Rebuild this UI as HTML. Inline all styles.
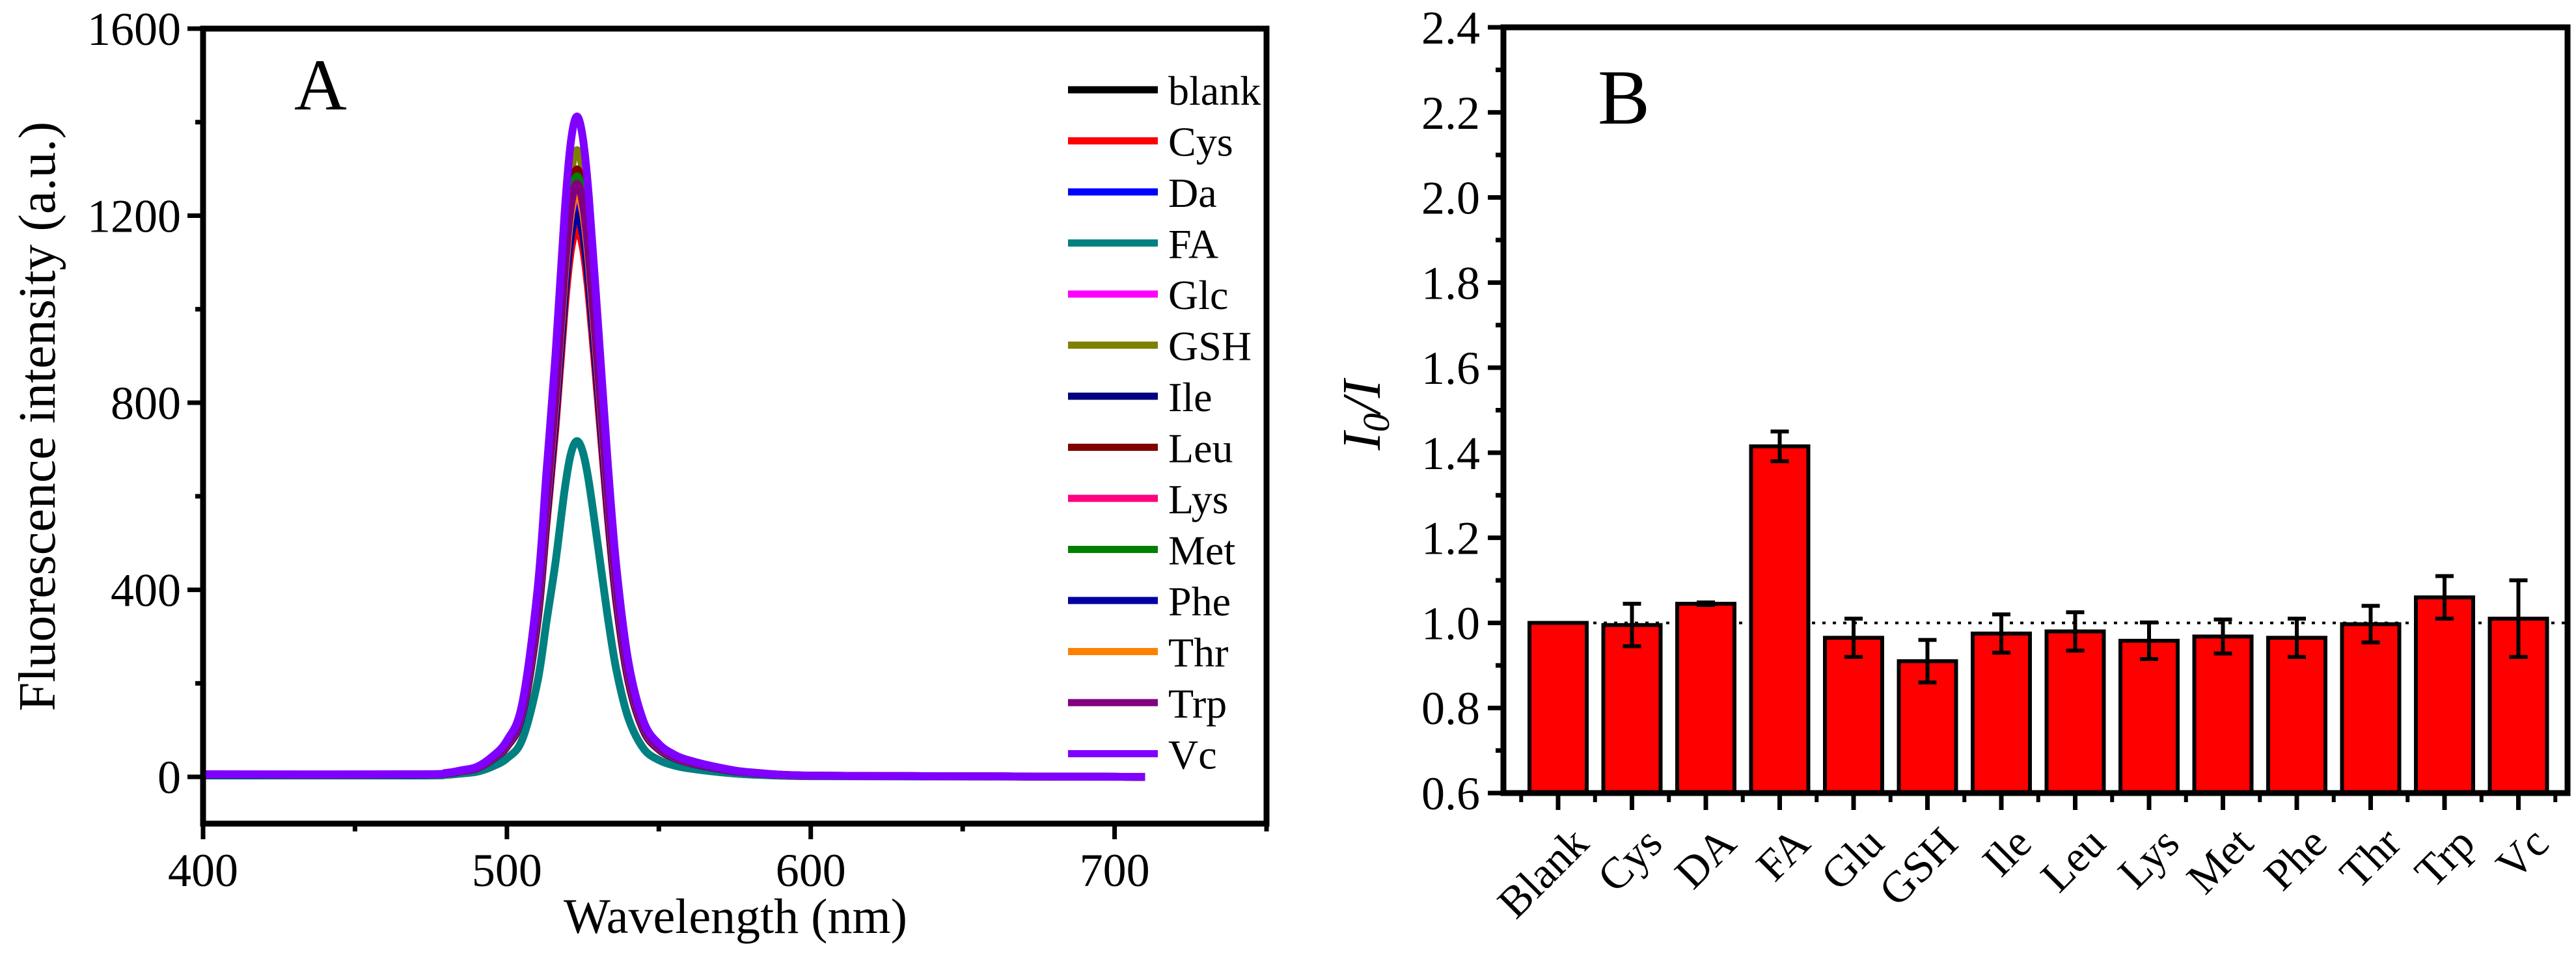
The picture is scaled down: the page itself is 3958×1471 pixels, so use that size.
<!DOCTYPE html>
<html><head><meta charset="utf-8"><style>
html,body{margin:0;padding:0;background:#fff;}
svg{display:block;font-family:"Liberation Serif",serif;}
</style></head><body>
<svg id="fig" width="3958" height="1471" viewBox="0 0 3958 1471" xmlns="http://www.w3.org/2000/svg">
<g id="pa"></g>
<g id="pb"></g>
</svg>
<script>
// ---------- Panel A data ----------
const seriesNames = ["blank","Cys","Da","FA","Glc","GSH","Ile","Leu","Lys","Met","Phe","Thr","Trp","Vc"];
const seriesColors = ["#000000","#ff0000","#0000ff","#008080","#ff00ff","#808000","#000080","#800000","#ff0080","#008000","#0000a0","#ff8000","#800080","#8000ff"];
const peakValues = [1210,1170,1230,718,1255,1340,1201,1299,1247,1284,1201,1250,1268,1412];
const wavelengths = [400,470,480,485,490,495,500,505,510,513,516,519,521,523,525,527,530,533,536,540,545,550,555,560,570,580,600,650,710];
const profile = [0.004,0.004,0.006,0.01,0.015,0.03,0.055,0.11,0.28,0.46,0.64,0.855,0.96,1,0.967,0.877,0.686,0.488,0.32,0.174,0.084,0.05,0.034,0.025,0.014,0.007,0.002,0.001,0];
const xTicksA = [400,500,600,700];
const yTicksA = [0,400,800,1200,1600];

// ---------- Panel B data ----------
const categories = ["Blank","Cys","DA","FA","Glu","GSH","Ile","Leu","Lys","Met","Phe","Thr","Trp","Vc"];
const ratioValues = [1.0,0.995,1.045,1.415,0.965,0.91,0.975,0.98,0.958,0.968,0.965,0.997,1.06,1.01];
const ratioErrors = [0,0.05,0.003,0.035,0.045,0.05,0.045,0.045,0.043,0.04,0.045,0.043,0.05,0.09];
const yTicksB = ["0.6","0.8","1.0","1.2","1.4","1.6","1.8","2.0","2.2","2.4"];

const NS="http://www.w3.org/2000/svg";
function mk(parent,tag,attrs,text){const e=document.createElementNS(NS,tag);for(const k in attrs)e.setAttribute(k,attrs[k]);if(text!==undefined)e.textContent=text;parent.appendChild(e);return e;}

// ===== Panel A =====
const pa=document.getElementById('pa');
const A={L:312,R:1946,T:44,B:1266,x0:400,x1:750,y0:-100,y1:1600};
const xA=v=>A.L+(v-A.x0)/(A.x1-A.x0)*(A.R-A.L);
const yA=v=>A.B-(v-A.y0)/(A.y1-A.y0)*(A.B-A.T);

function smoothPath(pts){
  let d="M"+pts[0][0].toFixed(1)+","+pts[0][1].toFixed(1);
  for(let i=0;i<pts.length-1;i++){
    const p0=pts[Math.max(0,i-1)],p1=pts[i],p2=pts[i+1],p3=pts[Math.min(pts.length-1,i+2)];
    const c1x=p1[0]+(p2[0]-p0[0])/6,c1y=p1[1]+(p2[1]-p0[1])/6;
    const c2x=p2[0]-(p3[0]-p1[0])/6,c2y=p2[1]-(p3[1]-p1[1])/6;
    d+=" C"+c1x.toFixed(1)+","+c1y.toFixed(1)+" "+c2x.toFixed(1)+","+c2y.toFixed(1)+" "+p2[0].toFixed(1)+","+p2[1].toFixed(1);
  }
  return d;
}
for(let s=0;s<seriesNames.length;s++){
  const pts=wavelengths.map((w,i)=>[xA(w),yA(profile[i]*peakValues[s])]);
  const p=mk(pa,'path',{d:smoothPath(pts),fill:'none',stroke:seriesColors[s],'stroke-width':12,'stroke-linejoin':'round'});
  
  
}
const fa=mk(pa,'rect',{x:A.L,y:A.T,width:A.R-A.L,height:A.B-A.T,fill:'none',stroke:'#000','stroke-width':9});


for(let v=400;v<=750;v+=50){
  const major=v%100===0;
  const t=mk(pa,'line',{x1:xA(v),x2:xA(v),y1:A.B,y2:A.B+(major?24:12),stroke:'#000','stroke-width':7});
  
  
}
xTicksA.forEach(v=>{
  const t=mk(pa,'text',{x:xA(v),y:1362,'font-size':72,'text-anchor':'middle'},String(v));
  
  
});
for(let v=0;v<=1600;v+=200){
  const major=v%400===0;
  const t=mk(pa,'line',{x1:A.L,x2:A.L-(major?24:12),y1:yA(v),y2:yA(v),stroke:'#000','stroke-width':7});
  
  
}
yTicksA.forEach(v=>{
  const t=mk(pa,'text',{x:278,y:yA(v)+25,'font-size':72,'text-anchor':'end'},String(v));
  
  
});
let t=mk(pa,'text',{x:0,y:0,'font-size':80,'text-anchor':'middle',transform:'translate(84,640) rotate(-90)'},'Fluorescence intensity (a.u.)');


t=mk(pa,'text',{x:1130,y:1434,'font-size':76,'text-anchor':'middle'},'Wavelength (nm)');


t=mk(pa,'text',{x:452,y:168,'font-size':112},'A');


seriesNames.forEach((n,i)=>{
  const y=138+i*78.5;
  const g=mk(pa,'g',{});
  
  
  mk(g,'line',{x1:1641,x2:1779,y1:y,y2:y,stroke:seriesColors[i],'stroke-width':11});
  mk(g,'text',{x:1795,y:y+23,'font-size':64},n);
});

// ===== Panel B =====
const pb=document.getElementById('pb');
const B={L:2310,R:3945,T:42,B:1219,y0:0.6,y1:2.4};
const yB=v=>B.B-(v-B.y0)/(B.y1-B.y0)*(B.B-B.T);
const step=113.5, firstC=2394;
const xB=i=>firstC+i*step;
const barW=88;
t=mk(pb,'line',{x1:2352,x2:B.R,y1:yB(1.0),y2:yB(1.0),stroke:'#000','stroke-width':4,'stroke-dasharray':'5 11'});


categories.forEach((c,i)=>{
  const v=ratioValues[i],e=ratioErrors[i],cx=xB(i);
  const r=mk(pb,'rect',{x:cx-barW/2,y:yB(v),width:barW,height:yB(0.6)-yB(v),fill:'#ff0000',stroke:'#000','stroke-width':6});
  
  
  if(e>0){
    const g=mk(pb,'g',{stroke:'#000','stroke-width':6});
    
    
    mk(g,'line',{x1:cx,x2:cx,y1:yB(v+e),y2:yB(v-e)});
    mk(g,'line',{x1:cx-14,x2:cx+14,y1:yB(v+e),y2:yB(v+e)});
    mk(g,'line',{x1:cx-14,x2:cx+14,y1:yB(v-e),y2:yB(v-e)});
  }
  const tk=mk(pb,'line',{x1:cx,x2:cx,y1:B.B,y2:B.B+26,stroke:'#000','stroke-width':7});
  
  
  const mt=mk(pb,'line',{x1:cx-step/2,x2:cx-step/2,y1:B.B,y2:B.B+14,stroke:'#000','stroke-width':6});
  
  
  const lb=mk(pb,'text',{x:0,y:0,'font-size':68,'text-anchor':'end',transform:'translate('+(cx+50)+',1300) rotate(-45)'},c);
  
  
});
t=mk(pb,'line',{x1:xB(13)+step/2,x2:xB(13)+step/2,y1:B.B,y2:B.B+14,stroke:'#000','stroke-width':6});


const fb=mk(pb,'rect',{x:B.L,y:B.T,width:B.R-B.L,height:B.B-B.T,fill:'none',stroke:'#000','stroke-width':9});


for(let k=0;k<=18;k++){
  const v=0.6+k*0.1, major=k%2===0;
  const tk=mk(pb,'line',{x1:B.L,x2:B.L-(major?24:12),y1:yB(v),y2:yB(v),stroke:'#000','stroke-width':7});
  
  
}
yTicksB.forEach(s=>{
  const tl=mk(pb,'text',{x:2274,y:yB(parseFloat(s))+25,'font-size':72,'text-anchor':'end'},s);
  
  
});
t=mk(pb,'text',{x:0,y:0,'font-size':84,'font-style':'italic','text-anchor':'middle',transform:'translate(2120,638) rotate(-90)'});


mk(t,'tspan',{},'I');
mk(t,'tspan',{'font-size':58,dy:14},'0');
mk(t,'tspan',{dy:-14},'/I');
t=mk(pb,'text',{x:2455,y:190,'font-size':120},'B');


</script>
</body></html>
